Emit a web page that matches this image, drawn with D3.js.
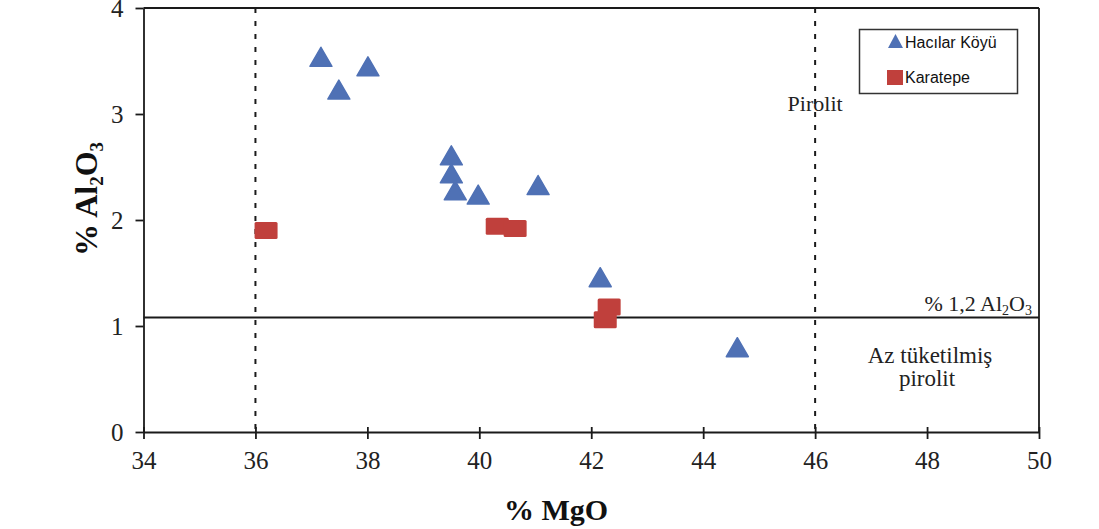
<!DOCTYPE html>
<html>
<head>
<meta charset="utf-8">
<script src="https://cdn.jsdelivr.net/npm/d3@7"></script>
<style>
  html, body { margin: 0; padding: 0; background: #fff; }
  svg { display: block; }
</style>
</head>
<body>
<svg id="chart" width="1099" height="529"></svg>
<script>
// ---- Data ----
const xTicks = [34, 36, 38, 40, 42, 44, 46, 48, 50];
const yTicks = [0, 1, 2, 3, 4];
const seriesNames = ["Hacılar Köyü", "Karatepe"];
const hacilarMgO   = [37.17, 37.49, 38.01, 39.50, 39.50, 39.57, 39.98, 41.05, 42.16, 44.61];
const hacilarAl2O3 = [3.54, 3.23, 3.45, 2.61, 2.44, 2.28, 2.24, 2.33, 1.46, 0.80];
const karatepeMgO   = [36.19, 40.32, 40.64, 42.25, 42.32];
const karatepeAl2O3 = [1.90, 1.94, 1.92, 1.06, 1.18];
const pyroliteMgOLines = [36, 46];
const al2o3Threshold = 1.08;

// ---- Layout ----
const svg = d3.select("#chart");
const pLeft = 143.5, pRight = 1039, pTop = 8, pBottom = 432;
const x = d3.scaleLinear().domain([34, 50]).range([pLeft, pRight]);
const y = d3.scaleLinear().domain([0, 4]).range([pBottom, pTop]);
const axisColor = "#1a1a1a";
const serif = "'Liberation Serif', 'Times New Roman', serif";
const sans = "'Liberation Sans', Arial, sans-serif";
const blue = "#4f71b5", red = "#c0403c";

// Dashed vertical lines
svg.append("g").selectAll("line").data(pyroliteMgOLines).join("line")
  .attr("x1", d => x(d)).attr("x2", d => x(d))
  .attr("y1", y(4)).attr("y2", y(0))
  .attr("stroke", axisColor).attr("stroke-width", 2)
  .attr("stroke-dasharray", "5,8");

// Horizontal threshold line
svg.append("line")
  .attr("x1", x(34)).attr("x2", x(50))
  .attr("y1", y(al2o3Threshold)).attr("y2", y(al2o3Threshold))
  .attr("stroke", axisColor).attr("stroke-width", 1.8);

// Frame top/right
svg.append("line").attr("x1", x(34)).attr("x2", x(50)).attr("y1", y(4)).attr("y2", y(4))
  .attr("stroke", axisColor).attr("stroke-width", 1.8);
svg.append("line").attr("x1", x(50)).attr("x2", x(50)).attr("y1", y(4)).attr("y2", y(0))
  .attr("stroke", axisColor).attr("stroke-width", 1.8);

// X axis
const gx = svg.append("g").attr("transform", `translate(0,${pBottom})`)
  .call(d3.axisBottom(x).tickValues(xTicks).tickFormat(d3.format("d"))
    .tickSize(7).tickSizeOuter(0).tickPadding(12));
gx.selectAll(".tick line").attr("y1", -5);
// Y axis
const gy = svg.append("g").attr("transform", `translate(${pLeft},0)`)
  .call(d3.axisLeft(y).tickValues(yTicks).tickFormat(d3.format("d"))
    .tickSize(8).tickSizeOuter(0).tickPadding(12));

[gx, gy].forEach(g => {
  g.attr("font-family", serif).attr("font-size", 25);
  g.select(".domain").attr("stroke", axisColor).attr("stroke-width", 1.8);
  g.selectAll(".tick line").attr("stroke", axisColor).attr("stroke-width", 1.8);
  g.selectAll(".tick text").style("font-family", serif).style("font-size", "25px").attr("fill", "#222");
});

// Axis titles
svg.append("text")
  .attr("x", 556).attr("y", 520)
  .attr("text-anchor", "middle")
  .attr("font-family", serif).attr("font-weight", "bold").attr("font-size", 30)
  .attr("fill", "#111")
  .text("% MgO");

const yl = svg.append("text")
  .attr("transform", "translate(97,199) rotate(-90)")
  .attr("text-anchor", "middle")
  .attr("font-family", serif).attr("font-weight", "bold").attr("font-size", 32)
  .attr("fill", "#111");
yl.append("tspan").text("% Al");
yl.append("tspan").attr("font-size", 19).attr("dy", 6).text("2");
yl.append("tspan").attr("dy", -6).text("O");
yl.append("tspan").attr("font-size", 19).attr("dy", 6).text("3");

// Annotations
svg.append("text").attr("x", x(46)).attr("y", 111).attr("text-anchor", "middle")
  .attr("font-family", serif).attr("font-size", 22).attr("fill", "#222").text("Pirolit");

const th = svg.append("text").attr("x", 1032).attr("y", 311).attr("text-anchor", "end")
  .attr("font-family", serif).attr("font-size", 22).attr("fill", "#222");
th.append("tspan").text("% 1,2 Al");
th.append("tspan").attr("font-size", 14).attr("dy", 4).text("2");
th.append("tspan").attr("dy", -4).text("O");
th.append("tspan").attr("font-size", 14).attr("dy", 4).text("3");

svg.append("text").attr("x", 930).attr("y", 363).attr("text-anchor", "middle")
  .attr("font-family", serif).attr("font-size", 23).attr("fill", "#222").text("Az tüketilmiş");
svg.append("text").attr("x", 927).attr("y", 386).attr("text-anchor", "middle")
  .attr("font-family", serif).attr("font-size", 23).attr("fill", "#222").text("pirolit");

// Markers
const triW = 22, triH = 19, sqW = 23, sqH = 17;
const triPath = (cx, cy, w, h) => `M${cx - w/2},${cy + h/2}L${cx},${cy - h/2}L${cx + w/2},${cy + h/2}Z`;

const karatepe = karatepeMgO.map((v, i) => ({ x: v, y: karatepeAl2O3[i] }));
const hacilar = hacilarMgO.map((v, i) => ({ x: v, y: hacilarAl2O3[i] }));

svg.append("g").selectAll("rect").data(karatepe).join("rect")
  .attr("x", d => x(d.x) - sqW/2).attr("y", d => y(d.y) - sqH/2)
  .attr("width", sqW).attr("height", sqH).attr("rx", 1.5)
  .attr("fill", red);

svg.append("g").selectAll("path").data(hacilar).join("path")
  .attr("d", d => triPath(x(d.x), y(d.y), triW, triH))
  .attr("fill", blue).attr("stroke", blue).attr("stroke-width", 1.5).attr("stroke-linejoin", "round");

// Legend
const lg = svg.append("g");
lg.append("rect").attr("x", 859.5).attr("y", 29.5).attr("width", 158).attr("height", 64)
  .attr("fill", "#fff").attr("stroke", "#333").attr("stroke-width", 1.5);
lg.append("path").attr("d", triPath(895.5, 41, 15, 14)).attr("fill", blue);
lg.append("rect").attr("x", 887).attr("y", 70).attr("width", 16).attr("height", 15).attr("fill", red);
lg.append("text").attr("x", 905).attr("y", 48).attr("font-family", sans).attr("font-size", 16)
  .attr("fill", "#111").text(seriesNames[0]);
lg.append("text").attr("x", 905).attr("y", 83).attr("font-family", sans).attr("font-size", 16)
  .attr("fill", "#111").text(seriesNames[1]);
</script>
</body>
</html>
